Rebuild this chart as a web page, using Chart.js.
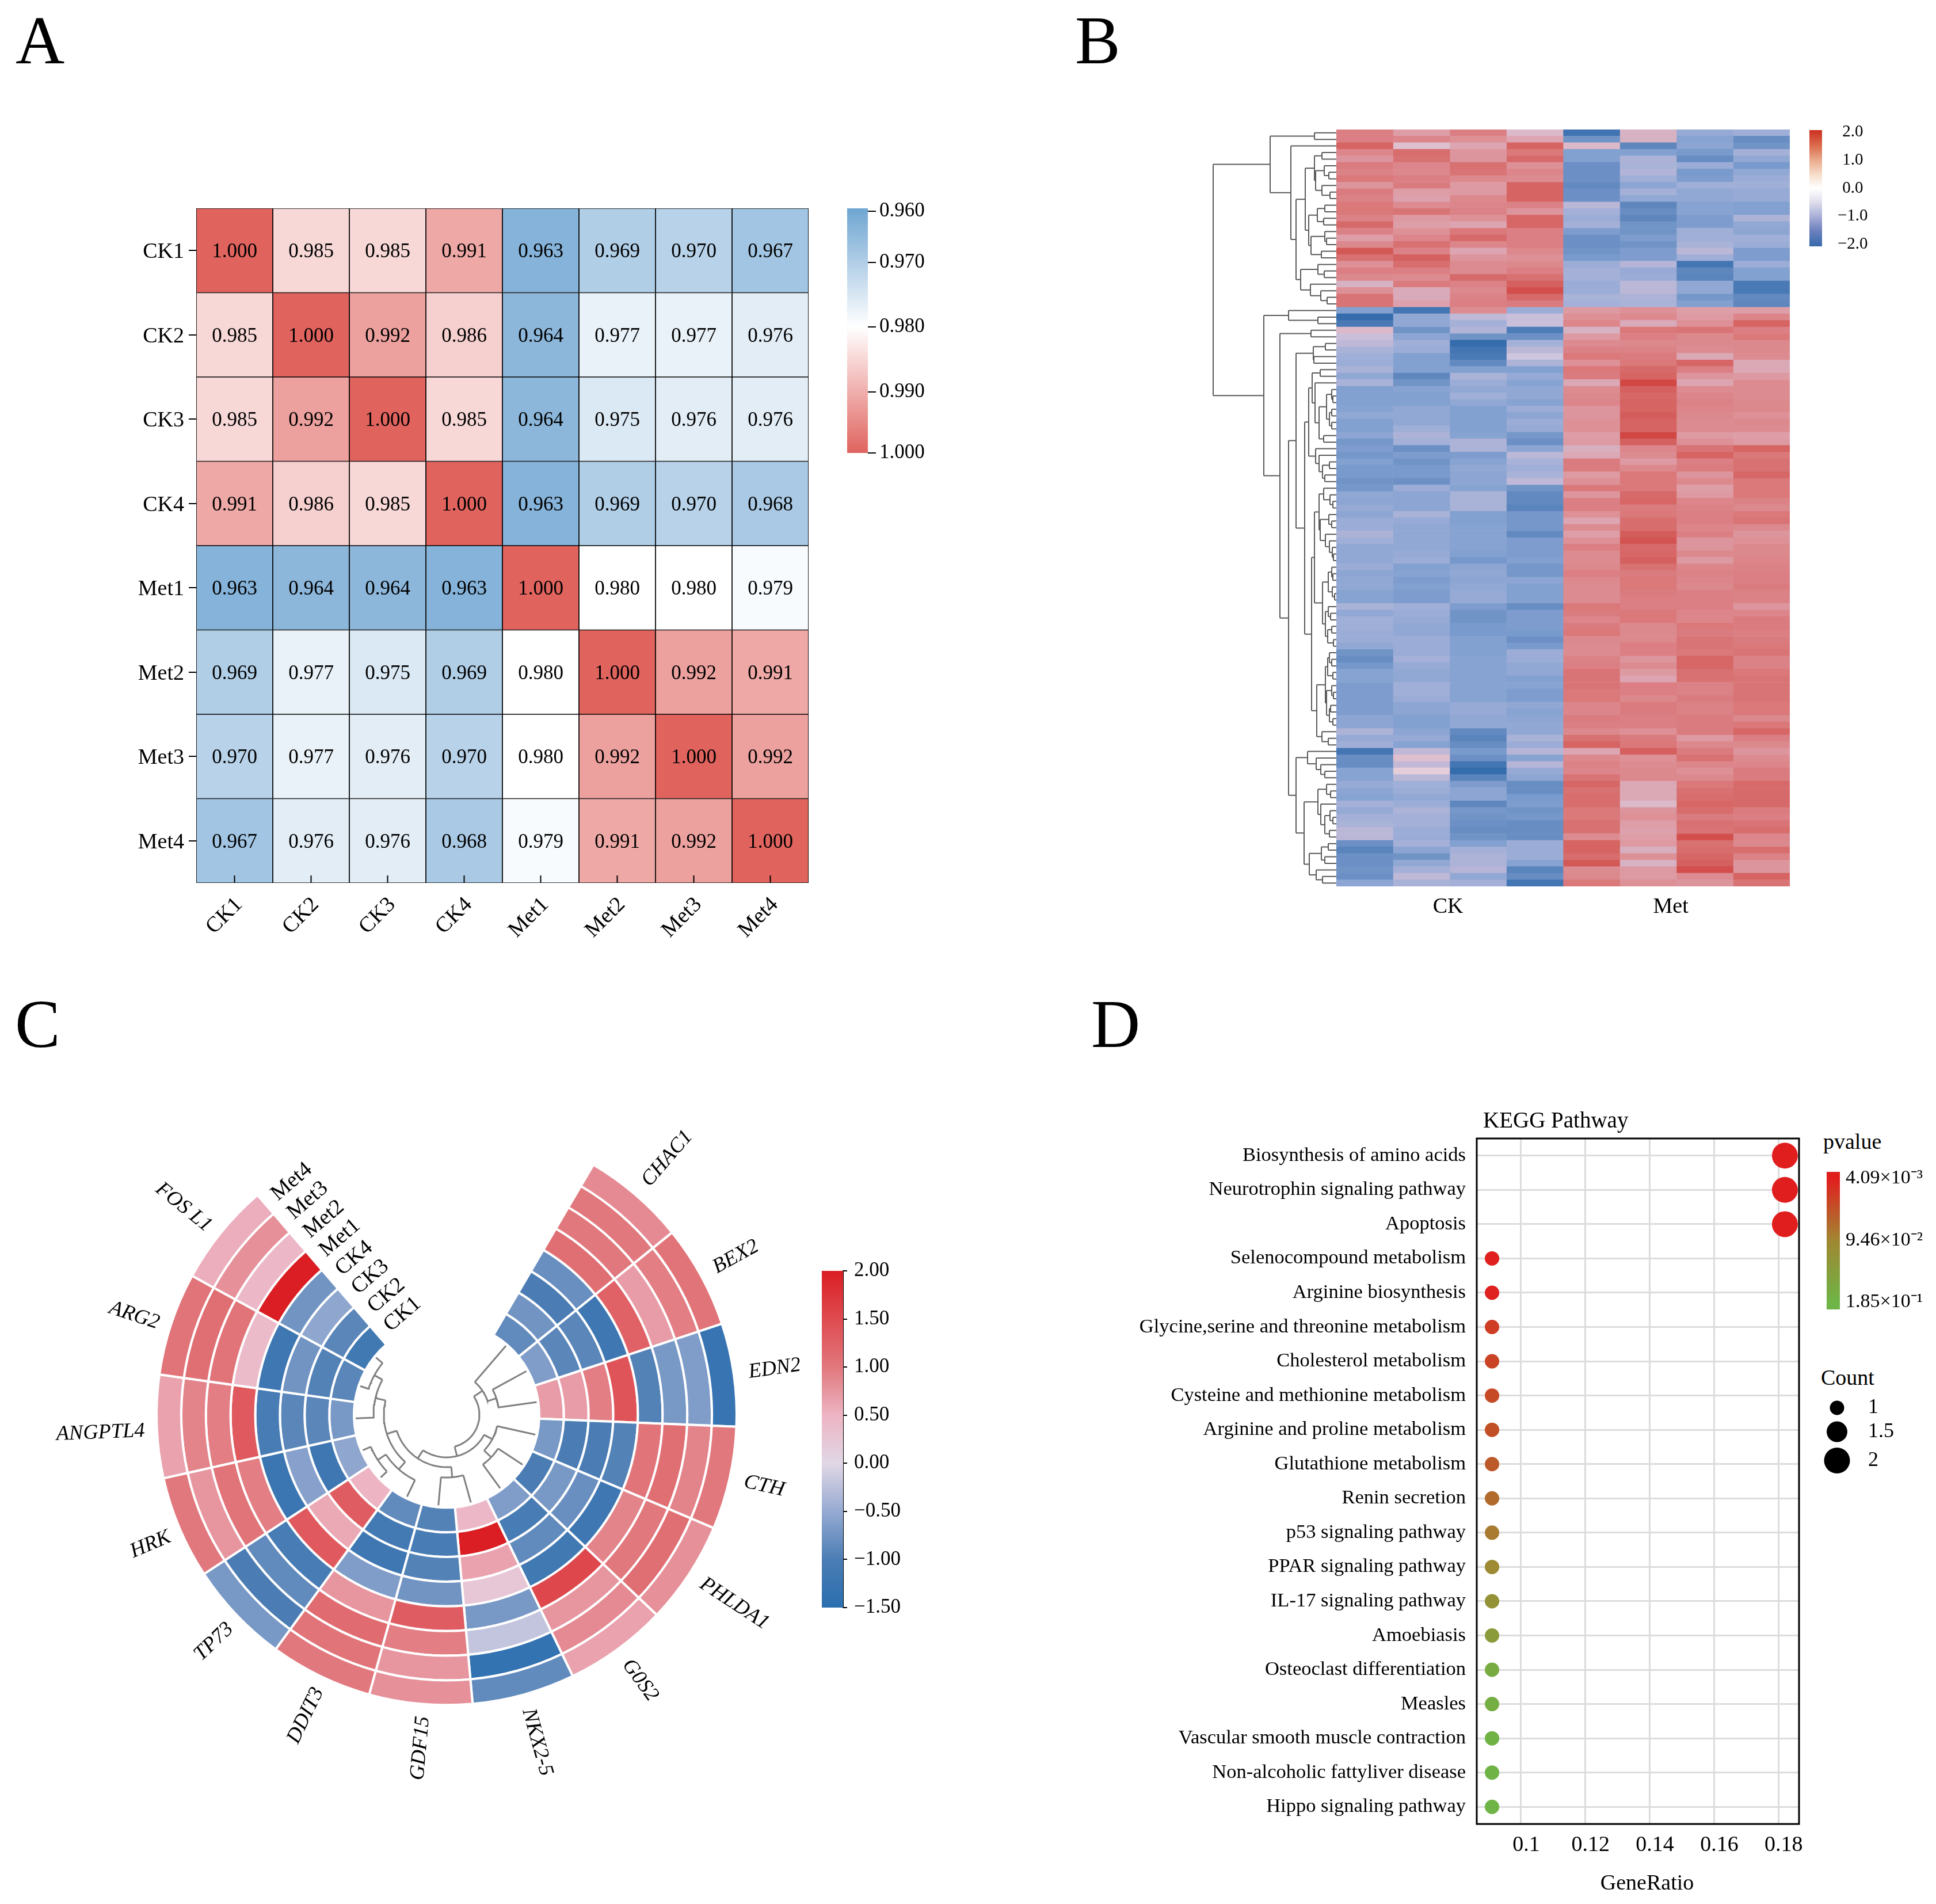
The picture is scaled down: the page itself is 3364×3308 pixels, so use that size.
<!DOCTYPE html>
<html>
<head>
<meta charset="utf-8">
<title>Panels A-D</title>
<script src="https://cdn.jsdelivr.net/npm/chart.js@4"></script>
<style>
  html, body { margin: 0; padding: 0; background: #fff; }
  #page { position: relative; width: 3364px; height: 3308px; overflow: hidden; background: #fff; }
  #page canvas { position: absolute; }
  .txt { position: absolute; font-family: "Liberation Serif", serif; color: #000; line-height: 1; white-space: nowrap; }
</style>
</head>
<body>
<div id="page"></div>
<script>
// ---- data: panel A ----
const sampleNames = ['CK1', 'CK2', 'CK3', 'CK4', 'Met1', 'Met2', 'Met3', 'Met4'];
const corrCK1 = [1.000, 0.985, 0.985, 0.991, 0.963, 0.969, 0.970, 0.967];
const corrCK2 = [0.985, 1.000, 0.992, 0.986, 0.964, 0.977, 0.977, 0.976];
const corrCK3 = [0.985, 0.992, 1.000, 0.985, 0.964, 0.975, 0.976, 0.976];
const corrCK4 = [0.991, 0.986, 0.985, 1.000, 0.963, 0.969, 0.970, 0.968];
const corrMet1 = [0.963, 0.964, 0.964, 0.963, 1.000, 0.980, 0.980, 0.979];
const corrMet2 = [0.969, 0.977, 0.975, 0.969, 0.980, 1.000, 0.992, 0.991];
const corrMet3 = [0.970, 0.977, 0.976, 0.970, 0.980, 0.992, 1.000, 0.992];
const corrMet4 = [0.967, 0.976, 0.976, 0.968, 0.979, 0.991, 0.992, 1.000];
const corrRows = [corrCK1, corrCK2, corrCK3, corrCK4, corrMet1, corrMet2, corrMet3, corrMet4];
const corrTicks = ['0.960', '0.970', '0.980', '0.990', '1.000'];

// ---- data: panel B, one row per gene, columns CK1-4 then Met1-4 ----
const exprTop = [
  [1.2,0.8,1.2,0.45,-1.9,0.5,-1.0,-0.9],[1.2,1.1,0.95,0.7,-1.4,0.5,-1.15,-1.5],[1.6,0.4,0.7,1.6,0.45,-1.6,-1.1,-1.4],
  [1.1,1.45,0.9,1.3,-1.2,-1.2,-1.3,-0.85],[0.9,1.4,0.9,1.5,-1.2,-0.75,-1.5,-1.05],[1.25,1.1,1.4,0.95,-1.45,-0.8,-0.95,-1.3],
  [1.15,1.05,1.35,1.1,-1.45,-0.7,-1.3,-1.05],[1.3,1.2,1.05,1.0,-1.45,-0.9,-1.25,-0.95],[0.9,1.25,0.85,1.6,-1.55,-1.1,-0.9,-0.9],
  [1.25,0.8,0.85,1.6,-1.45,-0.85,-1.05,-1.0],[1.15,0.75,1.05,1.6,-1.45,-1.05,-1.05,-1.0],[1.3,1.0,1.1,1.15,-0.6,-1.6,-1.15,-1.2],
  [1.3,1.35,1.15,0.9,-0.85,-1.5,-1.15,-1.2],[1.15,0.85,0.95,1.55,-0.95,-1.6,-1.25,-0.75],[1.5,0.8,0.7,1.55,-0.85,-1.4,-1.25,-1.05],
  [1.15,0.95,1.3,1.2,-1.25,-1.4,-0.9,-1.1],[0.8,1.1,1.5,1.2,-1.45,-1.25,-0.9,-0.9],[1.05,1.4,1.1,1.2,-1.45,-1.4,-0.8,-0.95],
  [1.75,1.15,0.7,1.05,-1.4,-1.25,-0.6,-1.25],[1.4,1.65,0.9,0.95,-1.3,-1.25,-0.9,-1.25],[0.95,1.45,1.0,1.05,-0.95,-0.65,-1.85,-0.95],
  [1.2,1.2,1.0,1.2,-0.85,-1.0,-1.6,-1.2],[1.05,1.0,1.5,1.4,-0.85,-0.95,-1.65,-1.2],[0.5,1.25,1.15,1.65,-0.95,-0.6,-1.05,-1.8],
  [0.95,0.6,1.05,1.85,-0.95,-0.6,-1.05,-1.8],[1.35,0.6,1.15,1.5,-0.8,-0.75,-1.35,-1.55],[1.35,0.75,1.2,1.25,-0.85,-0.8,-1.2,-1.6]
];
const exprMiddle = [
  [-1.2,-1.85,1.0,-0.95,0.85,0.95,0.8,0.8],[-2.0,-1.05,-0.55,-0.45,0.95,1.05,0.85,1.1],[-1.8,-1.05,-0.85,-0.45,1.1,0.6,0.95,1.6],
  [0.45,-1.4,-0.7,-1.75,0.5,1.3,1.35,1.2],[-0.45,-1.1,-1.4,-1.45,0.85,1.2,1.05,1.3],[-0.55,-0.9,-2.0,-0.85,1.0,1.05,1.05,1.05],
  [-0.8,-0.95,-1.85,-0.6,1.15,1.15,1.0,1.05],[-0.9,-1.2,-1.8,-0.4,1.3,1.25,0.65,1.0],[-0.95,-1.2,-1.55,-0.75,0.95,1.3,1.55,0.65],
  [-0.8,-1.2,-1.2,-1.2,1.3,1.5,1.2,0.65],[-1.05,-1.6,-0.8,-1.0,1.25,1.6,0.9,0.85],[-0.8,-1.4,-0.95,-1.15,0.65,1.95,0.7,1.0],
  [-1.2,-1.15,-1.05,-1.05,1.0,1.65,1.0,1.0],[-1.2,-1.2,-0.9,-1.05,1.05,1.55,1.1,1.0],[-1.2,-1.2,-1.05,-1.15,1.1,1.6,1.15,1.05],
  [-1.15,-1.05,-1.2,-0.95,0.9,1.6,1.1,1.05],[-1.05,-1.05,-1.2,-1.1,0.9,1.7,1.05,0.95],[-1.2,-1.05,-1.2,-0.95,0.95,1.6,1.0,1.05],
  [-1.2,-0.9,-1.2,-1.0,0.95,1.6,1.0,1.0],[-1.1,-0.75,-1.15,-1.35,0.8,1.95,0.85,0.8],[-1.35,-0.85,-0.75,-1.45,0.85,1.65,0.95,0.85],
  [-1.25,-1.45,-0.75,-1.1,0.55,1.1,1.35,1.6],[-1.35,-1.25,-1.25,-0.6,0.65,1.0,1.6,1.3],[-1.2,-1.4,-1.15,-0.8,1.25,0.85,1.2,1.4],
  [-1.3,-1.3,-1.05,-0.9,1.25,1.05,1.25,1.4],[-1.3,-1.3,-1.1,-0.8,0.85,1.3,0.9,1.55],[-1.4,-1.45,-1.1,-0.55,0.95,1.3,1.05,1.3],
  [-1.35,-0.95,-1.15,-1.4,1.3,1.3,0.8,1.3],[-1.05,-1.1,-0.8,-1.55,0.9,1.5,0.85,1.3],[-1.1,-1.1,-0.8,-1.55,1.2,1.55,1.1,1.15],
  [-1.0,-1.1,-0.8,-1.65,1.2,1.25,1.15,1.05],[-1.1,-0.8,-1.2,-1.35,0.95,1.3,1.2,1.3],[-0.95,-1.0,-1.2,-1.35,0.7,1.45,1.2,1.35],
  [-0.95,-1.05,-1.15,-1.35,1.0,1.45,1.1,1.05],[-0.75,-1.05,-1.15,-1.55,0.8,1.7,1.2,0.9],[-0.9,-1.05,-1.15,-1.25,0.95,1.8,0.9,0.95],
  [-1.05,-1.05,-1.15,-1.25,1.2,1.5,0.9,1.05],[-1.05,-1.0,-1.2,-1.25,1.0,1.55,1.05,1.05],[-1.05,-0.95,-1.35,-1.2,1.0,1.65,0.85,1.1],
  [-0.95,-1.2,-1.1,-1.35,1.05,1.4,1.1,1.15],[-1.1,-1.15,-1.05,-1.35,1.2,1.25,1.15,1.2],[-1.05,-1.25,-1.1,-1.1,1.05,1.3,1.1,1.2]
];
const exprBottom = [
  [-1.05,-1.2,-1.05,-1.2,1.0,1.3,1.05,1.25],[-1.15,-1.25,-1.0,-1.2,1.0,1.25,1.2,1.15],[-1.15,-1.25,-1.0,-1.2,1.0,1.2,1.2,1.15],
  [-0.8,-0.9,-1.25,-1.5,1.3,1.2,1.2,0.9],[-1.05,-0.95,-1.4,-1.25,1.25,1.3,1.1,1.1],[-0.9,-1.0,-1.4,-1.25,1.1,1.3,1.1,1.25],
  [-0.9,-1.05,-1.3,-1.25,1.25,1.05,1.3,1.25],[-0.95,-1.05,-1.3,-1.3,1.3,1.05,1.25,1.2],[-0.95,-0.95,-1.2,-1.45,1.05,1.05,1.35,1.25],
  [-1.05,-0.95,-1.2,-1.3,1.0,1.2,1.35,1.3],[-1.4,-0.95,-1.2,-0.95,1.0,1.2,1.3,1.35],[-1.5,-0.85,-1.15,-0.95,1.15,0.9,1.55,1.15],
  [-1.35,-1.0,-1.15,-1.05,1.2,1.0,1.55,1.15],[-1.15,-1.05,-1.15,-1.05,1.35,0.85,1.4,1.3],[-1.15,-1.05,-1.15,-1.2,1.35,0.7,1.4,1.35],
  [-1.25,-0.9,-1.15,-1.15,1.35,1.2,1.15,1.35],[-1.25,-0.9,-1.15,-1.25,1.3,1.2,1.15,1.35],[-1.25,-0.95,-1.15,-1.25,1.3,1.05,1.25,1.35],
  [-1.25,-1.1,-1.0,-1.05,1.1,1.25,1.15,1.3],[-1.25,-1.1,-1.0,-1.15,1.1,1.25,1.15,1.3],[-1.1,-1.2,-1.05,-1.1,1.25,1.2,1.25,1.05],
  [-1.1,-1.2,-1.05,-1.05,1.2,1.2,1.25,1.3],[-0.75,-1.1,-1.55,-1.05,1.05,0.95,1.25,1.55],[-1.0,-1.0,-1.65,-0.8,1.4,1.25,0.85,1.2],
  [-0.9,-1.15,-1.5,-0.95,1.6,1.3,1.05,1.05],[-1.85,-0.55,-1.3,-0.65,0.7,1.65,1.25,0.9],[-1.5,0.4,-1.45,-1.15,1.05,0.95,1.4,1.0],
  [-1.5,-0.5,-1.85,-0.65,1.15,1.0,1.1,1.1],[-1.15,0.3,-2.0,-1.0,1.1,1.05,0.95,1.25],[-1.15,-0.6,-1.65,-1.1,1.35,1.05,1.05,1.25],
  [-1.0,-0.9,-1.25,-1.5,1.55,0.65,1.3,1.5],[-1.1,-0.95,-1.1,-1.5,1.4,0.65,1.4,1.5],[-1.15,-1.05,-1.1,-1.3,1.45,0.65,1.45,1.5],
  [-0.85,-0.95,-1.6,-1.25,1.45,0.45,1.55,1.5],[-1.0,-0.75,-1.35,-1.4,1.3,0.9,1.45,1.25],[-0.85,-0.85,-1.4,-1.35,1.3,0.95,1.25,1.2],
  [-0.8,-0.85,-1.45,-1.5,1.4,0.8,1.4,1.35],[-0.6,-0.95,-1.5,-1.5,1.4,0.75,1.35,1.45],[-0.6,-0.95,-1.4,-1.5,1.0,0.8,1.85,1.1],
  [-1.45,-0.85,-1.2,-0.95,1.6,0.85,1.4,1.05],[-1.65,-1.1,-0.85,-0.95,1.6,0.55,1.45,1.45],[-1.45,-1.4,-0.75,-0.95,1.45,0.95,1.55,1.15],
  [-1.45,-1.05,-0.75,-1.15,1.75,0.5,1.65,0.9],[-1.4,-0.85,-0.65,-1.65,1.0,0.85,1.85,0.9],[-1.45,-0.55,-1.05,-1.5,1.05,0.85,1.0,1.6],
  [-1.1,-0.8,-0.85,-1.85,1.3,0.95,0.9,1.35]
];
const exprRows = exprTop.concat(exprMiddle, exprBottom);
const exprGroups = ['CK', 'Met'];
const exprTicks = [2, 1, 0, -1, -2];

// dendrogram of panel B: [merge height, upper child, lower child], 0 is a leaf, leaves follow row order
const exprTreeTop = [115, [38, 0, 0], [79, 0, [70,
  [54,
    [38, [25, 0, 0], [36, [21, 0, [13, 0, 0]], [25, 0, [11, 0, 0]]]],
    [48, [33, [20, 0, 0], [22, 0, 0]], [44, [20, 0, [17, 0, 0]], [26, 0, 0]]]],
  [62, [32, 0, [21, 0, 0]], [45, 0, [27, 0, [16, 0, 0]]]]]]];
const exprTreeA = [55,
  [48,
    [42, [28, 0, 0], [37, 0, [30, [17, [8, 0, [6, 0, 0]], [12, [8, 0, 0], [8, 0, 0]]], [22, 0, 0]]]],
    [36, 0, [30, 0, [24, [12, 0, 0], [20, 0, 0]]]]],
  [43,
    [38,
      [30, [22, 0, [11, 0, [6, 0, 0]]], [28, [13, 0, [8, 0, 0]], [19, 0, [12, 0, [7, 0, [5, 0, 0]]]]]],
      [24, [14, [8, 0, [6, 0, 0]], [7, 0, [3, 0, 0]]], [19, [14, 0, [10, 0, 0]], [15, [8, 0, 0], [5, 0, 0]]]]],
    [34,
      [19, [15, [12, 0, [8, 0, 0]], [6, 0, 0]], [17, [8, 0, [5, 0, 0]], [12, [10, 0, 0], [6, 0, 0]]]],
      [25, 0, [14, 0, 0]]]]];
const exprTreeB = [70,
  [50, 0, [35, 0, [27, 0, [20, 0, 0]]]],
  [56,
    [32, [17, 0, [10, 0, 0]], [27, 0, [20, [11, 0, [6, 0, 0]], [12, 0, 0]]]],
    [47, [26, [14, 0, 0], [20, 0, 0]], [35, 0, [24, 0, 0]]]]];
const exprTreeBottom = [126, [83, 0, [32, 0, 0]],
  [98, [44, 0, 0], [83, [70, [40, [19, 0, 0], [39, 0, 0]], exprTreeA], exprTreeB]]];
const exprTree = [214, exprTreeTop, exprTreeBottom];

// ---- data: panel C, clockwise from the top right, values CK1-4 then Met1-4 ----
const circleGenes = ['CHAC1', 'BEX2', 'EDN2', 'CTH', 'PHLDA1', 'G0S2', 'NKX2-5', 'GDF15', 'DDIT3', 'TP73', 'HRK', 'ANGPTL4', 'ARG2', 'FOS L1'];
const circleValues = [
  [-0.85, -0.75, -1.0, -0.8, 1.1, 1.0, 1.0, 0.85],
  [-0.65, -0.9, -0.9, -1.2, 1.25, 0.7, 0.95, 1.05],
  [0.7, 0.7, 0.95, 1.4, -0.95, -0.7, -0.65, -1.3],
  [-0.7, -1.0, -1.0, -0.95, 1.05, 1.1, 0.9, 1.0],
  [-1.0, -0.7, -0.8, -1.2, 0.9, 1.0, 1.1, 0.8],
  [-0.65, -1.05, -0.85, -1.15, 1.55, 0.75, 0.85, 0.65],
  [0.45, 2.0, 0.65, 0.25, -0.7, -0.2, -1.35, -0.85],
  [-0.95, -1.05, -0.95, -0.75, 1.3, 0.95, 0.75, 0.8],
  [-0.85, -1.1, -1.2, -0.65, 0.75, 1.15, 1.05, 1.0],
  [0.5, 1.3, 0.6, 1.35, -1.05, -0.85, -1.0, -0.7],
  [-0.55, -1.2, -0.6, -1.25, 0.95, 1.05, 0.75, 1.0],
  [-0.7, -0.9, -0.9, -1.05, 1.35, 0.95, 0.9, 0.65],
  [-0.9, -0.95, -0.75, -1.2, 0.4, 1.05, 1.1, 1.05],
  [-1.15, -0.9, -0.55, -0.75, 2.0, 0.45, 0.8, 0.55]
];
const circleTicks = [2, 1.5, 1, 0.5, 0, -0.5, -1, -1.5];
// dendrogram of panel C: [merge radius, first child, second child], 0 is a leaf, leaves follow gene order
const circleTree = [57,
  [75, 0, [91, 0, 0]],
  [74,
    [90, 0, [107, 0, 0]],
    [91,
      [109, 0, 0],
      [109, [126, 0, [143, 0, 0]], [127, 0, [143, 0, 0]]]]]];

// ---- data: panel D ----
const pathways = ['Biosynthesis of amino acids', 'Neurotrophin signaling pathway', 'Apoptosis', 'Selenocompound metabolism',
  'Arginine biosynthesis', 'Glycine,serine and threonine metabolism', 'Cholesterol metabolism', 'Cysteine and methionine metabolism',
  'Arginine and proline metabolism', 'Glutathione metabolism', 'Renin secretion', 'p53 signaling pathway', 'PPAR signaling pathway',
  'IL-17 signaling pathway', 'Amoebiasis', 'Osteoclast differentiation', 'Measles', 'Vascular smooth muscle contraction',
  'Non-alcoholic fattyliver disease', 'Hippo signaling pathway'];
const geneRatio = [0.182, 0.182, 0.182, 0.091, 0.091, 0.091, 0.091, 0.091, 0.091, 0.091, 0.091, 0.091, 0.091, 0.091, 0.091, 0.091, 0.091, 0.091, 0.091, 0.091];
const geneCount = [2, 2, 2, 1, 1, 1, 1, 1, 1, 1, 1, 1, 1, 1, 1, 1, 1, 1, 1, 1];
const pValue = [0.0041, 0.0041, 0.0041, 0.006, 0.0065, 0.031, 0.037, 0.042, 0.047, 0.055, 0.069, 0.084, 0.1, 0.116, 0.134, 0.167, 0.172, 0.18, 0.183, 0.185];
const pTicks = [0.0041, 0.0946, 0.185];
const pTickLabels = ['4.09×10⁻³', '9.46×10⁻²', '1.85×10⁻¹'];
const ratioTicks = [0.1, 0.12, 0.14, 0.16, 0.18];
const countLevels = [1, 1.5, 2];

// ---- colours ----
const corrStops = [[0.96, [111, 165, 210]], [0.98, [255, 255, 255]], [1, [224, 99, 94]]];
const exprStops = [[-2, [52, 108, 172]], [-1.6, [95, 135, 190]], [-1.2, [130, 160, 208]], [-0.9, [160, 175, 215]], [-0.5, [195, 185, 215]],
  [0, [250, 245, 250]], [0.5, [215, 178, 195]], [0.8, [222, 158, 168]], [1, [220, 140, 145]], [1.2, [219, 127, 132]], [1.4, [216, 113, 113]],
  [1.7, [211, 93, 91]], [2, [208, 66, 63]]];
const exprLegendStops = [[-2.08, [55, 105, 172]], [-1.5, [110, 130, 190]], [-1, [170, 175, 215]], [-0.5, [222, 222, 236]], [0, [255, 255, 255]],
  [0.5, [245, 220, 200]], [1, [235, 170, 140]], [1.5, [220, 110, 80]], [2.08, [205, 48, 33]]];
const circleStops = [[-1.5, [42, 110, 175]], [-1, [75, 125, 180]], [-0.5, [150, 170, 210]], [0, [225, 215, 230]], [0.5, [237, 180, 195]],
  [1, [225, 120, 125]], [1.5, [222, 75, 80]], [2, [218, 30, 35]]];
const pStops = [[0.0041, [225, 30, 30]], [0.0946, [160, 135, 50]], [0.185, [110, 180, 70]]];

function colorAt(stops, v) {
  if (v <= stops[0][0]) return 'rgb(' + stops[0][1].join(',') + ')';
  for (let i = 1; i < stops.length; i++) {
    if (v <= stops[i][0]) {
      const t = (v - stops[i - 1][0]) / (stops[i][0] - stops[i - 1][0]);
      const c = stops[i - 1][1].map((a, k) => Math.round(a + (stops[i][1][k] - a) * t));
      return 'rgb(' + c.join(',') + ')';
    }
  }
  return 'rgb(' + stops[stops.length - 1][1].join(',') + ')';
}

// ---- page helpers ----
const SERIF = '"Liberation Serif", "Times New Roman", serif';
Chart.defaults.font.family = SERIF;
Chart.defaults.color = '#000';
Chart.defaults.animation = false;
Chart.defaults.responsive = false;
Chart.defaults.devicePixelRatio = 1;
Chart.defaults.layout.autoPadding = false;
Chart.defaults.plugins.legend.display = false;
Chart.defaults.plugins.tooltip.enabled = false;

const page = document.getElementById('page');

function addCanvas(x, y, w, h) {
  const c = document.createElement('canvas');
  c.width = w;
  c.height = h;
  c.style.left = x + 'px';
  c.style.top = y + 'px';
  c.style.width = w + 'px';
  c.style.height = h + 'px';
  page.appendChild(c);
  return c;
}

function addText(text, x, y, size, align) {
  const d = document.createElement('div');
  d.className = 'txt';
  d.textContent = text;
  d.style.left = x + 'px';
  d.style.top = y + 'px';
  d.style.fontSize = size + 'px';
  d.style.transform = align === 'center' ? 'translate(-50%,-50%)' : 'translateY(-50%)';
  page.appendChild(d);
}

// no label overflow margins, so the plot area stays where the canvas says
function noMargins(s) {
  s.paddingTop = 0;
  s.paddingBottom = 0;
  s.paddingLeft = 0;
  s.paddingRight = 0;
}

// vertical colour bar with its own axis
function colorbar(o) {
  const pad = 30;
  const c = addCanvas(o.x, o.y - pad, o.w + o.axisW, o.h + pad * 2);
  return new Chart(c, {
    type: 'bar',
    data: {
      labels: [''],
      datasets: [{
        data: [[o.min, o.max]],
        barPercentage: 1,
        categoryPercentage: 1,
        borderWidth: 0,
        backgroundColor(ctx) {
          const a = ctx.chart.chartArea;
          if (!a) return '#fff';
          const g = ctx.chart.ctx.createLinearGradient(0, a.top, 0, a.bottom);
          o.stops.forEach(s => g.addColorStop(s[0], s[1]));
          return g;
        }
      }]
    },
    options: {
      layout: { padding: { top: pad, bottom: pad } },
      scales: {
        x: { display: false },
        y: {
          position: 'right',
          min: o.min,
          max: o.max,
          reverse: !!o.reverse,
          afterFit(s) { s.width = o.axisW; noMargins(s); },
          afterBuildTicks(s) { s.ticks = o.ticks.map(v => ({ value: v })); },
          ticks: {
            autoSkip: false,
            callback: o.label,
            padding: o.padding,
            crossAlign: o.crossAlign || 'near',
            font: { size: o.size }
          },
          grid: o.tickLength ? { drawOnChartArea: false, tickLength: o.tickLength, color: '#000', lineWidth: o.tickWidth || 2 } : { display: false },
          border: o.axisLine ? { display: true, color: '#000', width: 2 } : { display: false }
        }
      }
    }
  });
}

// walk a nested tree, returns position and height of the node, fills segs
function walkTree(node, leaf, leafH, segs) {
  if (node === 0) {
    const p = leaf.next();
    return { p: p, h: leafH };
  }
  const a = walkTree(node[1], leaf, leafH, segs);
  const b = walkTree(node[2], leaf, leafH, segs);
  const h = node[0];
  segs.push({ p1: a.p, h1: a.h, p2: a.p, h2: h });
  segs.push({ p1: b.p, h1: b.h, p2: b.p, h2: h });
  segs.push({ p1: a.p, h1: h, p2: b.p, h2: h, across: true });
  return { p: (a.p + b.p) / 2, h: h };
}

// ---- panel letters ----
addText('A', 27, 71, 118);
addText('B', 1868, 71, 118);
addText('C', 26, 1780, 118);
addText('D', 1896, 1780, 118);

// ---- panel A: correlation heatmap ----
const insideTicks = {
  id: 'insideTicks',
  afterDatasetsDraw(chart) {
    const { ctx, chartArea, scales } = chart;
    ctx.save();
    ctx.strokeStyle = '#000';
    ctx.lineWidth = 2;
    scales.x.ticks.forEach(t => {
      const px = scales.x.getPixelForValue(t.value);
      ctx.beginPath();
      ctx.moveTo(px, chartArea.bottom);
      ctx.lineTo(px, chartArea.bottom - 13);
      ctx.stroke();
    });
    ctx.restore();
  }
};
const cellText = {
  id: 'cellText',
  afterDatasetsDraw(chart) {
    const { ctx } = chart;
    ctx.save();
    ctx.font = '35px ' + SERIF;
    ctx.fillStyle = '#000';
    ctx.textAlign = 'center';
    ctx.textBaseline = 'middle';
    chart.data.datasets.forEach((ds, col) => {
      chart.getDatasetMeta(col).data.forEach((bar, row) => {
        const p = bar.getCenterPoint();
        ctx.fillText(corrRows[row][col].toFixed(3), p.x, p.y + 3);
      });
    });
    ctx.restore();
  }
};
new Chart(addCanvas(180, 340, 1250, 1380), {
  type: 'bar',
  plugins: [insideTicks, cellText],
  data: {
    labels: sampleNames,
    datasets: sampleNames.map((name, col) => ({
      label: name,
      data: corrRows.map(() => 1),
      backgroundColor: corrRows.map(r => colorAt(corrStops, r[col])),
      borderColor: '#000',
      borderWidth: 1.2,
      borderSkipped: false,
      barPercentage: 1,
      categoryPercentage: 1
    }))
  },
  options: {
    indexAxis: 'y',
    layout: { padding: { top: 22, right: 25 } },
    scales: {
      x: {
        stacked: true,
        min: 0,
        max: 8,
        afterFit(s) { s.height = 186; noMargins(s); },
        afterBuildTicks(s) { s.ticks = sampleNames.map((_, i) => ({ value: i + 0.5 })); },
        grid: { display: false },
        border: { display: false },
        ticks: {
          autoSkip: false,
          minRotation: 45,
          maxRotation: 45,
          padding: 8,
          labelOffset: 8,
          font: { size: 38 },
          callback: v => sampleNames[v - 0.5]
        }
      },
      y: {
        stacked: true,
        afterFit(s) { s.width = 161; noMargins(s); },
        grid: { offset: false, drawOnChartArea: false, tickLength: 13, color: '#000', lineWidth: 2 },
        border: { display: false },
        ticks: { padding: 8, labelOffset: 3, font: { size: 38 }, autoSkip: false }
      }
    }
  }
});
const corrTickAt = [0.012, 0.221, 0.485, 0.75, 1];
colorbar({
  x: 1472, y: 362, w: 36, h: 425, axisW: 150,
  min: 0, max: 1, reverse: true,
  stops: [[0, colorAt(corrStops, 0.96)], [0.485, '#fff'], [1, colorAt(corrStops, 1)]],
  ticks: corrTickAt,
  label: (v, i) => corrTicks[i],
  padding: 6, size: 35, tickLength: 14
});

// ---- panel B: expression heatmap and dendrogram ----
new Chart(addCanvas(2322, 225, 788, 1385), {
  type: 'bar',
  data: {
    labels: exprRows.map((_, i) => i + 1),
    datasets: sampleNames.map((name, col) => ({
      label: name,
      data: exprRows.map(() => 1),
      backgroundColor: exprRows.map(r => colorAt(exprStops, r[col])),
      borderWidth: 0,
      barPercentage: 1,
      categoryPercentage: 1
    }))
  },
  options: {
    indexAxis: 'y',
    scales: {
      x: {
        stacked: true,
        min: 0,
        max: 8,
        afterFit(s) { s.height = 70; noMargins(s); },
        afterBuildTicks(s) { s.ticks = [{ value: 1.97 }, { value: 5.9 }]; },
        grid: { display: false },
        border: { display: false },
        ticks: { padding: 5, font: { size: 38 }, callback: (v, i) => exprGroups[i] }
      },
      y: { stacked: true, display: false }
    }
  }
});

const exprSegs = [];
let exprLeaf = 0;
walkTree(exprTree, { next: () => exprLeaf++ + 0.5 }, 0, exprSegs);
const exprLine = [];
exprSegs.forEach(s => {
  exprLine.push({ x: s.h1, y: s.p1 }, { x: s.h2, y: s.p2 }, { x: NaN, y: NaN });
});
new Chart(addCanvas(2100, 225, 222, 1315), {
  type: 'scatter',
  data: {
    datasets: [{ data: exprLine, showLine: true, spanGaps: false, pointRadius: 0, borderColor: '#5a5a5a', borderWidth: 2, clip: false }]
  },
  options: {
    scales: {
      x: { display: false, min: 0, max: 222, reverse: true },
      y: { display: false, min: 0, max: exprRows.length, reverse: true }
    }
  }
});
colorbar({
  x: 3144, y: 226, w: 22, h: 202, axisW: 130,
  min: -2.08, max: 2.08,
  stops: exprLegendStops.map(s => [1 - (s[0] + 2.08) / 4.16, 'rgb(' + s[1].join(',') + ')']),
  ticks: exprTicks,
  label: v => (v < 0 ? '−' + Math.abs(v).toFixed(1) : v.toFixed(1)),
  padding: 19, size: 29, crossAlign: 'center'
});

// ---- panel C: circular heatmap ----
const circleCentre = { x: 776, y: 2458 };
const circleStart = 30.4;
const circleSweep = 288.9;
const circleInner = 161;
const circleOuter = 504;
const sectorDeg = circleSweep / circleGenes.length;

const circleLabels = {
  id: 'circleLabels',
  afterDatasetsDraw(chart) {
    const { ctx } = chart;
    const arc = chart.getDatasetMeta(0).data[0];
    const ringW = (circleOuter - circleInner) / sampleNames.length;
    ctx.save();
    ctx.fillStyle = '#000';
    ctx.textBaseline = 'middle';
    ctx.font = 'italic 36.5px ' + SERIF;
    circleGenes.forEach((gene, i) => {
      const deg = circleStart + (i + 0.5) * sectorDeg;
      const rad = deg * Math.PI / 180;
      const right = deg < 180;
      const r = right ? 530 : 525;
      ctx.save();
      ctx.translate(arc.x + r * Math.sin(rad), arc.y - r * Math.cos(rad));
      ctx.rotate((right ? deg - 90 : deg - 270) * Math.PI / 180);
      ctx.textAlign = right ? 'left' : 'right';
      ctx.fillText(gene, 0, right ? 0 : 7);
      ctx.restore();
    });
    // sample names along the left cut
    const cut = (circleStart + circleSweep) * Math.PI / 180;
    ctx.font = '38px ' + SERIF;
    ctx.textAlign = 'left';
    sampleNames.forEach((name, i) => {
      const r = circleInner + (i + 0.5) * ringW;
      const px = arc.x + r * Math.sin(cut) + 20 * Math.cos(cut);
      const py = arc.y - r * Math.cos(cut) + 20 * Math.sin(cut);
      ctx.save();
      ctx.translate(px, py);
      ctx.rotate(cut);
      ctx.fillText(name, 0, 0);
      ctx.restore();
    });
    ctx.restore();
  }
};
const circleCanvas = addCanvas(0, 0, 1500, 1500);
const circleChart = new Chart(circleCanvas, {
  type: 'doughnut',
  plugins: [circleLabels],
  data: {
    labels: circleGenes,
    // first dataset is the outer ring
    datasets: sampleNames.map((name, s) => ({
      label: name,
      data: circleGenes.map(() => 1),
      backgroundColor: circleValues.map(v => colorAt(circleStops, v[s])),
      borderColor: '#fff',
      borderWidth: 4
    })).reverse()
  },
  options: {
    rotation: circleStart,
    circumference: circleSweep,
    radius: circleOuter,
    cutout: (circleInner / circleOuter * 100) + '%'
  }
});
const arc0 = circleChart.getDatasetMeta(0).data[0];
circleCanvas.style.left = (circleCentre.x - arc0.x) + 'px';
circleCanvas.style.top = (circleCentre.y - arc0.y) + 'px';

const circleSegs = [];
let circleLeaf = 0;
walkTree(circleTree, { next: () => circleStart + (circleLeaf++ + 0.5) * sectorDeg }, 158, circleSegs);
const circleLine = [];
const polar = (deg, r) => ({ x: r * Math.sin(deg * Math.PI / 180), y: r * Math.cos(deg * Math.PI / 180) });
circleSegs.forEach(s => {
  if (s.across) {
    for (let k = 0; k <= 24; k++) circleLine.push(polar(s.p1 + (s.p2 - s.p1) * k / 24, s.h1));
  } else {
    circleLine.push(polar(s.p1, s.h1), polar(s.p2, s.h2));
  }
  circleLine.push({ x: NaN, y: NaN });
});
new Chart(addCanvas(circleCentre.x - 170, circleCentre.y - 170, 340, 340), {
  type: 'scatter',
  data: {
    datasets: [{ data: circleLine, showLine: true, spanGaps: false, pointRadius: 0, borderColor: '#808080', borderWidth: 3 }]
  },
  options: {
    scales: {
      x: { display: false, min: -170, max: 170 },
      y: { display: false, min: -170, max: 170 }
    }
  }
});
colorbar({
  x: 1428, y: 2208, w: 37, h: 585, axisW: 150,
  min: -1.5, max: 2,
  stops: circleStops.map(s => [(2 - s[0]) / 3.5, 'rgb(' + s[1].join(',') + ')']),
  ticks: circleTicks,
  label: v => (v < 0 ? '−' + Math.abs(v).toFixed(2) : v.toFixed(2)),
  padding: 12, size: 35, tickLength: 7, axisLine: true
});

// ---- panel D: KEGG bubble plot ----
const plotFrame = {
  id: 'plotFrame',
  afterDatasetsDraw(chart) {
    const { ctx, chartArea: a } = chart;
    ctx.save();
    ctx.strokeStyle = '#000';
    ctx.lineWidth = 3;
    ctx.strokeRect(a.left, a.top, a.right - a.left, a.bottom - a.top);
    ctx.restore();
  }
};
const countRadius = c => 12.5 + (c - 1) * 10;
new Chart(addCanvas(1950, 1960, 1200, 1340), {
  type: 'scatter',
  plugins: [plotFrame],
  data: {
    labels: pathways,
    datasets: [{
      data: pathways.map((name, i) => ({ x: geneRatio[i], y: name })),
      pointRadius: geneCount.map(countRadius),
      pointBackgroundColor: pValue.map(p => colorAt(pStops, p)),
      pointBorderWidth: 0,
      clip: false
    }]
  },
  options: {
    layout: { padding: { top: 18, right: 24 } },
    scales: {
      x: {
        type: 'linear',
        min: 0.08625,
        max: 0.1864,
        afterFit(s) { s.height = 131; noMargins(s); },
        afterBuildTicks(s) { s.ticks = ratioTicks.map(v => ({ value: v })); },
        grid: { color: '#dcdcdc', lineWidth: 3, drawTicks: false },
        border: { display: false },
        ticks: { padding: 14, labelOffset: 9, font: { size: 38 }, autoSkip: false, maxRotation: 0, callback: v => String(v) }
      },
      y: {
        type: 'category',
        offset: true,
        labels: pathways,
        afterFit(s) { s.width = 616; noMargins(s); },
        grid: { color: '#dcdcdc', lineWidth: 3, offset: false, drawTicks: false },
        border: { display: false },
        ticks: { padding: 19, font: { size: 34.5 }, autoSkip: false }
      }
    }
  }
});
addText('KEGG Pathway', 2577, 1945, 39);
addText('GeneRatio', 2862, 3270, 38, 'center');
addText('pvalue', 3168, 1983, 38);
addText('Count', 3164, 2393, 38);
colorbar({
  x: 3174, y: 2036, w: 23, h: 239, axisW: 167,
  min: -0.00515, max: 0.1959, reverse: true,
  stops: [[0, colorAt(pStops, 0)], [0.0463, colorAt(pStops, 0.0041)], [0.5, colorAt(pStops, 0.0946)], [0.9456, colorAt(pStops, 0.185)], [1, colorAt(pStops, 0.185)]],
  ticks: pTicks,
  label: (v, i) => pTickLabels[i],
  padding: 2, size: 34
});
const countAt = [36, 77.5, 127.5];
new Chart(addCanvas(3140, 2410, 224, 160), {
  type: 'scatter',
  data: {
    datasets: [{
      data: countLevels.map((c, i) => ({ x: 52, y: countAt[i] })),
      pointRadius: [12.5, 18, 22.5],
      pointBackgroundColor: '#000',
      pointBorderWidth: 0,
      clip: false
    }]
  },
  options: {
    scales: {
      x: { display: false, min: 0, max: 90 },
      y: {
        position: 'right',
        min: 0,
        max: 160,
        reverse: true,
        afterFit(s) { s.width = 134; noMargins(s); },
        afterBuildTicks(s) { s.ticks = countAt.map(v => ({ value: v })); },
        grid: { display: false },
        border: { display: false },
        ticks: { padding: 8, font: { size: 36 }, autoSkip: false, callback: (v, i) => String(countLevels[i]) }
      }
    }
  }
});
</script>
</body>
</html>
